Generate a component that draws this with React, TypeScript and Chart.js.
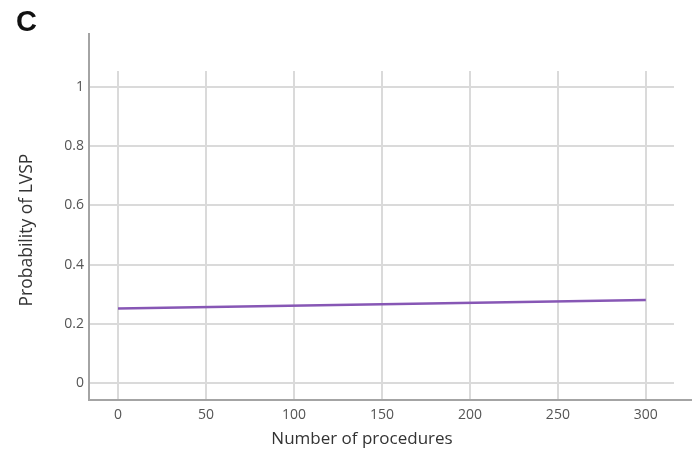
import React, { useEffect, useRef } from "react";
import { Chart, registerables } from "chart.js";

Chart.register(...registerables);

const procedures = [0, 300];
const probability = [0.252, 0.28];
const xTicks = [0, 50, 100, 150, 200, 250, 300];
const yTicks = [0, 0.2, 0.4, 0.6, 0.8, 1];
const xTitle = "Number of procedures";
const yTitle = "Probability of LVSP";
const panelLabel = "C";

const FONT = "'Open Sans', Lato, sans-serif";

const axisExtension = {
  id: "axisExtension",
  afterDraw(chart: any) {
    const { ctx, chartArea } = chart;
    ctx.save();
    ctx.strokeStyle = "#a4a4a4";
    ctx.lineWidth = 2;
    ctx.beginPath();
    ctx.moveTo(chartArea.left, chartArea.bottom);
    ctx.lineTo(chartArea.left, 33);
    ctx.moveTo(chartArea.left - 1, chartArea.bottom);
    ctx.lineTo(chart.width, chartArea.bottom);
    ctx.stroke();
    ctx.restore();
  },
};

export default function App() {
  const ref = useRef<HTMLCanvasElement | null>(null);
  useEffect(() => {
    if (!ref.current) return;
    const chart = new Chart(ref.current, {
      type: "line",
      data: {
        datasets: [
          {
            data: procedures.map((x, i) => ({ x, y: probability[i] })),
            borderColor: "#8757b5",
            borderWidth: 2.5,
            pointRadius: 0,
            fill: false,
          },
        ],
      },
      options: {
        animation: false,
        responsive: false,
        maintainAspectRatio: false,
        layout: { padding: { left: 0, top: 71, right: 18, bottom: 0 } },
        plugins: { legend: { display: false }, tooltip: { enabled: false } },
        scales: {
          x: {
            type: "linear",
            min: -16.5,
            max: 316,
            afterBuildTicks: (s: any) => {
              s.ticks = xTicks.map((v) => ({ value: v }));
            },
            afterFit: (s: any) => {
              s.height = 50;
            },
            grid: { color: "#dadada", lineWidth: 2, drawTicks: false },
            border: { display: false },
            ticks: {
              padding: 7,
              color: "#555",
              font: { family: FONT, size: 14 },
              callback: (v: any) => String(v),
            },
          },
          y: {
            type: "linear",
            min: -0.0574,
            max: 1.054,
            afterBuildTicks: (s: any) => {
              s.ticks = yTicks.map((v) => ({ value: v }));
            },
            afterFit: (s: any) => {
              s.width = 89;
            },
            grid: { color: "#dadada", lineWidth: 2, drawTicks: false },
            border: { display: false },
            ticks: {
              padding: 5,
              color: "#555",
              font: { family: FONT, size: 14 },
              callback: (v: any) => String(v),
            },
          },
        },
      },
      plugins: [axisExtension],
    });
    return () => chart.destroy();
  }, []);
  return (
    <div style={{ position: "fixed", left: 0, top: 0, width: 692, height: 450, background: "#fff" }}>
      <canvas ref={ref} width={692} height={450} style={{ display: "block" }} />
      <div
        style={{
          position: "absolute",
          left: 16,
          top: 4,
          fontFamily: "'Liberation Sans', Arial, sans-serif",
          fontWeight: "bold",
          fontSize: 29,
          lineHeight: "34px",
          color: "#111",
        }}
      >
        {panelLabel}
      </div>
      <div
        style={{
          position: "absolute",
          left: 362,
          top: 438,
          transform: "translate(-50%, -50%)",
          whiteSpace: "nowrap",
          fontFamily: FONT,
          fontSize: 17,
          lineHeight: "20px",
          color: "#333",
        }}
      >
        {xTitle}
      </div>
      <div
        style={{
          position: "absolute",
          left: 25,
          top: 230,
          transform: "translate(-50%, -50%) rotate(-90deg)",
          whiteSpace: "nowrap",
          fontFamily: FONT,
          fontSize: 17.5,
          lineHeight: "20px",
          color: "#333",
        }}
      >
        {yTitle}
      </div>
    </div>
  );
}
